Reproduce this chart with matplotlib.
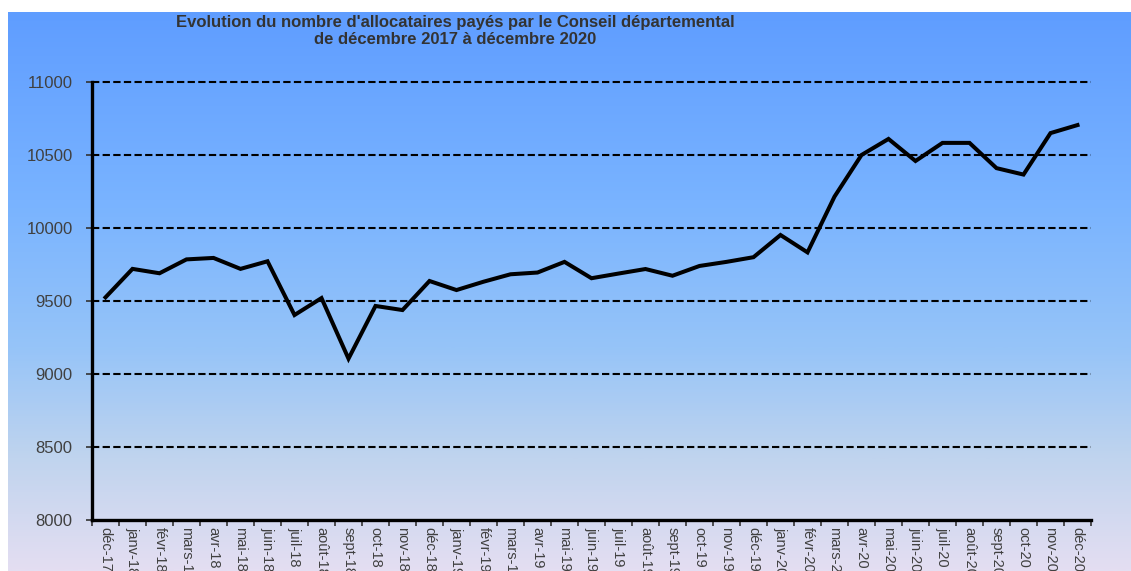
import numpy as np
import matplotlib
matplotlib.use("Agg")
import matplotlib.pyplot as plt
from matplotlib.colors import LinearSegmentedColormap

plt.rcParams['font.family'] = ['Liberation Sans', 'DejaVu Sans']

# Monthly payees, December 2017 to December 2020
months = ["déc-17", "janv-18", "févr-18", "mars-18", "avr-18", "mai-18", "juin-18",
          "juil-18", "août-18", "sept-18", "oct-18", "nov-18", "déc-18",
          "janv-19", "févr-19", "mars-19", "avr-19", "mai-19", "juin-19",
          "juil-19", "août-19", "sept-19", "oct-19", "nov-19", "déc-19",
          "janv-20", "févr-20", "mars-20", "avr-20", "mai-20", "juin-20",
          "juil-20", "août-20", "sept-20", "oct-20", "nov-20", "déc-20"]
allocataires = [9525, 9720, 9690, 9785, 9795, 9720, 9772,
                9404, 9520, 9105, 9466, 9438, 9637,
                9575, 9632, 9683, 9695, 9768, 9656,
                9688, 9719, 9673, 9740, 9768, 9800,
                9952, 9833, 10215, 10500, 10610, 10459,
                10583, 10583, 10410, 10366, 10650, 10705]
y_ticks = [8000, 8500, 9000, 9500, 10000, 10500, 11000]

W, H = 1131, 571
fig = plt.figure(figsize=(W / 100, H / 100), dpi=100)
fig.patch.set_facecolor("white")

# Vertical gradient backdrop
bg = fig.add_axes([8 / W, 0, 1 - 8 / W, 1 - 12 / H], zorder=0)
stops = [(0.0, (95 / 255, 157 / 255, 255 / 255)),
         (0.35, (122 / 255, 180 / 255, 255 / 255)),
         (0.6, (150 / 255, 196 / 255, 248 / 255)),
         (0.8, (192 / 255, 212 / 255, 238 / 255)),
         (1.0, (228 / 255, 222 / 255, 242 / 255))]
cmap = LinearSegmentedColormap.from_list("sky", stops)
grad = np.linspace(0, 1, 512).reshape(-1, 1)
bg.imshow(grad, aspect="auto", cmap=cmap, extent=[0, 1, 0, 1], origin="upper")
bg.set_axis_off()

ax = fig.add_axes([92 / W, (H - 520) / H, (1091 - 92) / W, (520 - 82) / H], zorder=1)
ax.patch.set_alpha(0)

x = np.arange(len(months))
ax.plot(x, allocataires, color="black", lw=2.9, solid_joinstyle="miter", zorder=3, clip_on=False)

ax.set_xlim(-0.5, len(months) - 0.5)
ax.set_ylim(8000, 11000)

for v in y_ticks[1:]:
    ax.axhline(v, color="black", lw=1.5, linestyle=(0, (3.5, 1.6)), zorder=2, clip_on=False)

ax.set_yticks(y_ticks)
ax.set_yticklabels([str(v) for v in y_ticks], fontsize=12, color="#404040")
ax.tick_params(axis="y", direction="out", length=4, width=1.2, color="#333333", pad=10)

ax.set_xticks(x)
ax.set_xticklabels(months, rotation=-90, fontsize=10.5, color="#404040", va="top", ha="center")
ax.tick_params(axis="x", which="major", length=0, pad=5)
ax.set_xticks(np.arange(-0.5, len(months)), minor=True)
ax.tick_params(axis="x", which="minor", direction="out", length=4, width=1.2, color="#333333")

for side in ("top", "right"):
    ax.spines[side].set_visible(False)
for side in ("left", "bottom"):
    ax.spines[side].set_linewidth(2.4)
    ax.spines[side].set_color("black")

fig.text(455 / W, 1 - 31 / H,
         "Evolution du nombre d'allocataires payés par le Conseil départemental\n"
         "de décembre 2017 à décembre 2020",
         ha="center", va="center", fontsize=12, fontweight="bold", color="#333333",
         linespacing=1.1, zorder=5)

fig.savefig("out.png", dpi=100)
